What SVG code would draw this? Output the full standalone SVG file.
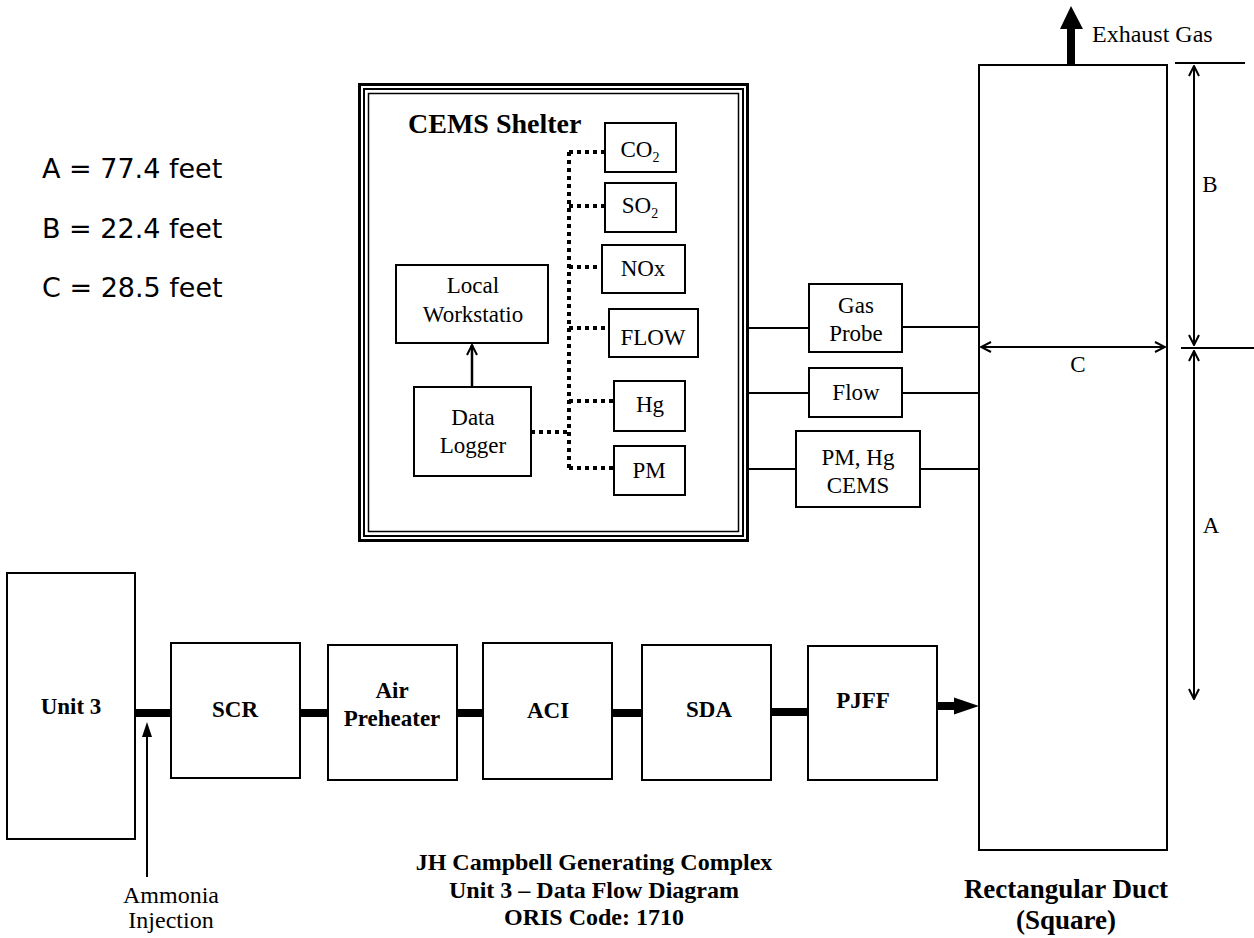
<svg xmlns="http://www.w3.org/2000/svg" width="1254" height="938" viewBox="0 0 1254 938">
<style>
.box{fill:#fff;stroke:#000;stroke-width:2}
.t{font-family:"Liberation Serif","Times New Roman",serif;font-size:23px;fill:#000;text-anchor:middle}
.b{font-family:"Liberation Serif","Times New Roman",serif;font-weight:bold;font-size:23px;fill:#000;text-anchor:middle}
.s{font-family:"DejaVu Sans",Verdana,sans-serif;font-size:27px;fill:#000}
.ln{stroke:#000;stroke-width:2;fill:none}
.thick{stroke:#000;stroke-width:8;fill:none}
.dot{stroke:#000;stroke-width:4;stroke-dasharray:4 4;fill:none}
.dim{stroke:#000;stroke-width:2;fill:none;marker-start:url(#open);marker-end:url(#open)}
</style>
<defs>
<marker id="open" viewBox="0 0 12 12" refX="11" refY="6" markerWidth="12" markerHeight="12" markerUnits="userSpaceOnUse" orient="auto-start-reverse">
<path d="M1,1 L11,6 L1,11" fill="none" stroke="#000" stroke-width="2"/>
</marker>
</defs>
<rect width="1254" height="938" fill="#fff"/>

<g id="legend">
<text class="s" x="42" y="178">A = 77.4 feet</text>
<text class="s" x="42" y="238">B = 22.4 feet</text>
<text class="s" x="42" y="297">C = 28.5 feet</text>
</g>

<g id="cems-shelter">
<rect x="359.5" y="84.5" width="388" height="456" fill="#fff" stroke="#000" stroke-width="3"/>
<rect x="364" y="89" width="379" height="447" fill="none" stroke="#000" stroke-width="2"/>
<rect x="368.5" y="93.5" width="370" height="438" fill="none" stroke="#000" stroke-width="1.5"/>
<text class="b" x="408" y="133" style="text-anchor:start;font-size:28px">CEMS Shelter</text>
</g>

<g id="co2"><rect class="box" x="605" y="123" width="71" height="49"/><text class="t" x="640" y="157">CO<tspan font-size="14" dy="5">2</tspan></text></g>
<g id="so2"><rect class="box" x="605" y="183" width="71" height="49"/><text class="t" x="640" y="213">SO<tspan font-size="14" dy="5">2</tspan></text></g>
<g id="nox"><rect class="box" x="602" y="245" width="83" height="48"/><text class="t" x="643" y="276">NOx</text></g>
<g id="flow-analyzer"><rect class="box" x="609" y="309" width="89" height="48"/><text class="t" x="653" y="345">FLOW</text></g>
<g id="hg"><rect class="box" x="614" y="381" width="71" height="50"/><text class="t" x="650" y="412">Hg</text></g>
<g id="pm"><rect class="box" x="614" y="446" width="71" height="49"/><text class="t" x="649" y="478">PM</text></g>

<g id="local-workstation"><rect class="box" x="396" y="265" width="152" height="78"/><text class="t" x="473" y="293">Local</text><text class="t" x="473" y="322">Workstatio</text></g>
<g id="data-logger"><rect class="box" x="414" y="387" width="117" height="89"/><text class="t" x="473" y="425">Data</text><text class="t" x="473" y="453">Logger</text></g>

<g id="gas-probe"><rect class="box" x="809" y="284" width="93" height="68"/><text class="t" x="856" y="313">Gas</text><text class="t" x="856" y="341">Probe</text></g>
<g id="flow-probe"><rect class="box" x="809" y="368" width="93" height="49"/><text class="t" x="856" y="400">Flow</text></g>
<g id="pm-hg-cems"><rect class="box" x="796" y="431" width="124" height="76"/><text class="t" x="858" y="465">PM, Hg</text><text class="t" x="858" y="493">CEMS</text></g>

<g id="duct"><rect class="box" x="979" y="65" width="188" height="785"/></g>

<g id="unit3"><rect class="box" x="7" y="573" width="128" height="266"/><text class="b" x="71" y="714">Unit 3</text></g>
<g id="scr"><rect class="box" x="171" y="643" width="129" height="135"/><text class="b" x="235" y="717">SCR</text></g>
<g id="air-preheater"><rect class="box" x="328" y="645" width="129" height="135"/><text class="b" x="392" y="698">Air</text><text class="b" x="392" y="726">Preheater</text></g>
<g id="aci"><rect class="box" x="483" y="643" width="129" height="136"/><text class="b" x="548" y="718">ACI</text></g>
<g id="sda"><rect class="box" x="642" y="645" width="129" height="135"/><text class="b" x="709" y="717">SDA</text></g>
<g id="pjff"><rect class="box" x="808" y="646" width="129" height="134"/><text class="b" x="863" y="708">PJFF</text></g>

<g id="connectors">
<path class="dot" d="M569,152 V470"/>
<path class="dot" d="M569,152 H605"/>
<path class="dot" d="M569,206 H605"/>
<path class="dot" d="M569,267 H602"/>
<path class="dot" d="M569,328 H609"/>
<path class="dot" d="M569,401 H614"/>
<path class="dot" d="M569,468 H614"/>
<path class="dot" d="M531,432 H569"/>
<path d="M472,387 V345" stroke="#000" stroke-width="2.5" fill="none" marker-end="url(#open)"/>
<path class="ln" d="M747,328 H809 M902,327 H979"/>
<path class="ln" d="M747,393 H809 M902,393 H979"/>
<path class="ln" d="M747,469 H796 M920,469 H979"/>
<path class="thick" d="M135,713 H171 M300,713 H328 M457,713 H483 M612,713 H642 M771,712 H808"/>
<path d="M937,702 H954 V697.5 L979,706 L954,714.5 V710 H937 Z" fill="#000"/>
<path class="ln" d="M147,877 V731"/>
<path d="M142,737 L147,722 L152,737 Z" fill="#000"/>
<path d="M1067,65 V29 H1060 L1071,6 L1083,29 H1075 V65 Z" fill="#000"/>
<path class="dim" d="M981,347 H1165"/>
<path class="ln" d="M1175,63 H1245 M1181,348 H1254"/>
<path class="dim" d="M1194,66 V345"/>
<path class="dim" d="M1194,351 V699"/>
</g>

<g id="labels">
<text class="t" x="1092" y="42" style="text-anchor:start;font-size:24px">Exhaust Gas</text>
<text class="t" x="1078" y="372">C</text>
<text class="t" x="1210" y="192">B</text>
<text class="t" x="1211" y="533">A</text>
<text class="t" x="171" y="903" style="font-size:24px">Ammonia</text>
<text class="t" x="171" y="928" style="font-size:24px">Injection</text>
<text class="b" x="594" y="870" style="font-size:24px">JH Campbell Generating Complex</text>
<text class="b" x="594" y="898" style="font-size:24px">Unit 3 – Data Flow Diagram</text>
<text class="b" x="594" y="925" style="font-size:24px">ORIS Code:  1710</text>
<text class="b" x="1066" y="898" style="font-size:27px">Rectangular Duct</text>
<text class="b" x="1066" y="929" style="font-size:27px">(Square)</text>
</g>
</svg>
